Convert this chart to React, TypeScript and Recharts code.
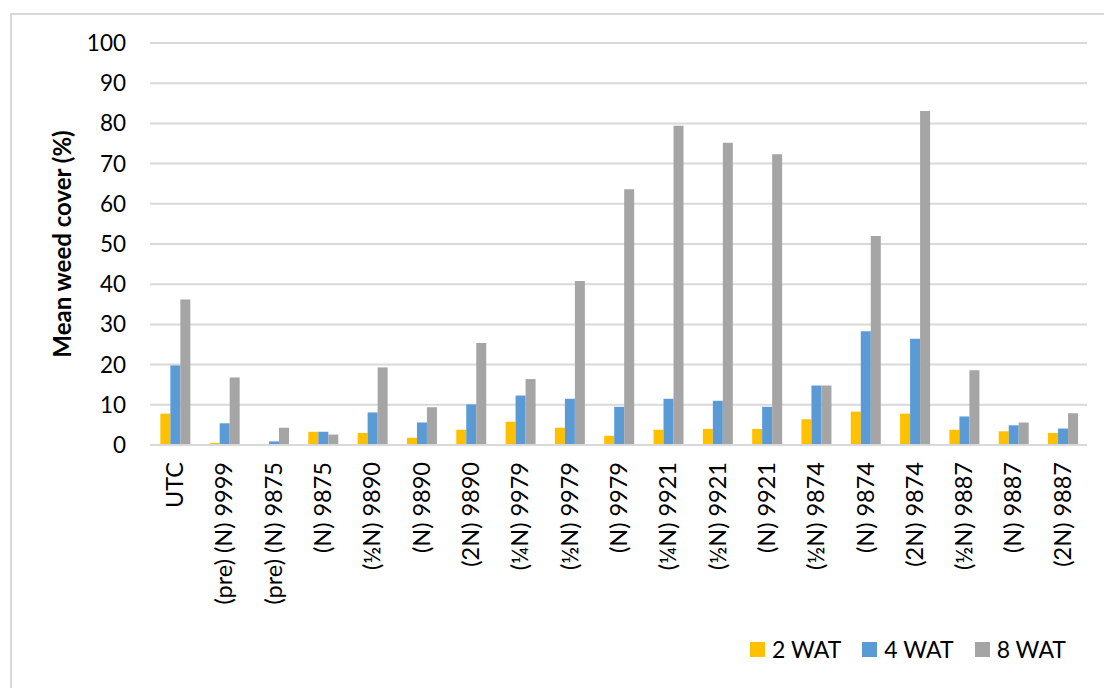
import { BarChart, Bar, XAxis, YAxis, CartesianGrid, Legend } from "recharts";

const treatments = [
  "UTC",
  "(pre) (N) 9999",
  "(pre) (N) 9875",
  "(N) 9875",
  "(½N) 9890",
  "(N) 9890",
  "(2N) 9890",
  "(¼N) 9979",
  "(½N) 9979",
  "(N) 9979",
  "(¼N) 9921",
  "(½N) 9921",
  "(N) 9921",
  "(½N) 9874",
  "(N) 9874",
  "(2N) 9874",
  "(½N) 9887",
  "(N) 9887",
  "(2N) 9887",
];

const wat2 = [7.8, 0.5, 0, 3.3, 3.0, 1.8, 3.8, 5.8, 4.3, 2.3, 3.8, 4.0, 4.0, 6.4, 8.3, 7.8, 3.8, 3.4, 3.0];
const wat4 = [19.8, 5.4, 0.9, 3.3, 8.1, 5.6, 10.1, 12.3, 11.5, 9.5, 11.5, 11.0, 9.5, 14.8, 28.3, 26.4, 7.1, 4.9, 4.1];
const wat8 = [36.2, 16.8, 4.3, 2.6, 19.3, 9.4, 25.4, 16.4, 40.8, 63.6, 79.4, 75.2, 72.3, 14.8, 52.0, 83.1, 18.6, 5.6, 7.9];

const yTicks = [0, 10, 20, 30, 40, 50, 60, 70, 80, 90, 100];

const series = [
  { key: "wat2", name: "2 WAT", color: "#FFC000" },
  { key: "wat4", name: "4 WAT", color: "#5B9BD5" },
  { key: "wat8", name: "8 WAT", color: "#A5A5A5" },
];

const data = treatments.map((name, i) => ({
  name,
  wat2: wat2[i],
  wat4: wat4[i],
  wat8: wat8[i],
}));

const FONT = "Lato, 'Open Sans', sans-serif";

function RotatedTick(props: any) {
  const { x, y, payload } = props;
  return (
    <text
      x={x}
      y={y}
      dy="0.36em"
      textAnchor="end"
      transform={`rotate(-90, ${x}, ${y})`}
      fill="#000"
      fontSize={23.5}
      fontFamily={FONT}
    >
      {payload.value}
    </text>
  );
}

function LegendRow(props: any) {
  const items = props.payload ?? [];
  return (
    <div style={{ display: "flex", paddingLeft: 750 }}>
      {items.map((it: any) => (
        <div key={it.value} style={{ display: "flex", alignItems: "center", width: 116, height: 30 }}>
          <span
            style={{ width: 15, height: 15, background: it.color, display: "inline-block", marginRight: 7 }}
          />
          <span style={{ fontFamily: FONT, fontSize: 23, color: "#000" }}>{it.value}</span>
        </div>
      ))}
    </div>
  );
}

function YLabel(props: any) {
  const { viewBox } = props;
  const cy = viewBox.y + viewBox.height / 2;
  return (
    <text
      x={62}
      y={cy}
      dy="0.36em"
      textAnchor="middle"
      transform={`rotate(-90, 62, ${cy})`}
      fontFamily={FONT}
      fontSize={24}
      fontWeight={700}
      fill="#000"
    >
      Mean weed cover (%)
    </text>
  );
}

export default function App() {
  return (
    <div style={{ position: "absolute", left: 0, top: 0, width: 1104, height: 688, background: "#fff" }}>
      <div
        style={{
          position: "absolute",
          left: 10,
          top: 13,
          width: 1110,
          height: 700,
          border: "2px solid #D9D9D9",
        }}
      />
      <BarChart
        width={1104}
        height={688}
        data={data}
        margin={{ top: 43, right: 17, left: 0, bottom: 24 }}
        barCategoryGap="21%"
        barGap={0}
      >
        <CartesianGrid vertical={false} stroke="#D9D9D9" strokeWidth={2} />
        <XAxis
          dataKey="name"
          interval={0}
          height={189}
          tickLine={false}
          axisLine={{ stroke: "#D9D9D9", strokeWidth: 2 }}
          tick={<RotatedTick />}
          tickMargin={11}
        />
        <YAxis
          width={150}
          domain={[0, 100]}
          ticks={yTicks}
          tickLine={false}
          axisLine={false}
          tickSize={0}
          tickMargin={24}
          tick={{ fill: "#000", fontSize: 22.5, fontFamily: FONT }}
          label={<YLabel />}
        />
        <Legend verticalAlign="bottom" content={<LegendRow />} />
        {series.map((s) => (
          <Bar key={s.key} dataKey={s.key} name={s.name} fill={s.color} isAnimationActive={false} />
        ))}
      </BarChart>
    </div>
  );
}
